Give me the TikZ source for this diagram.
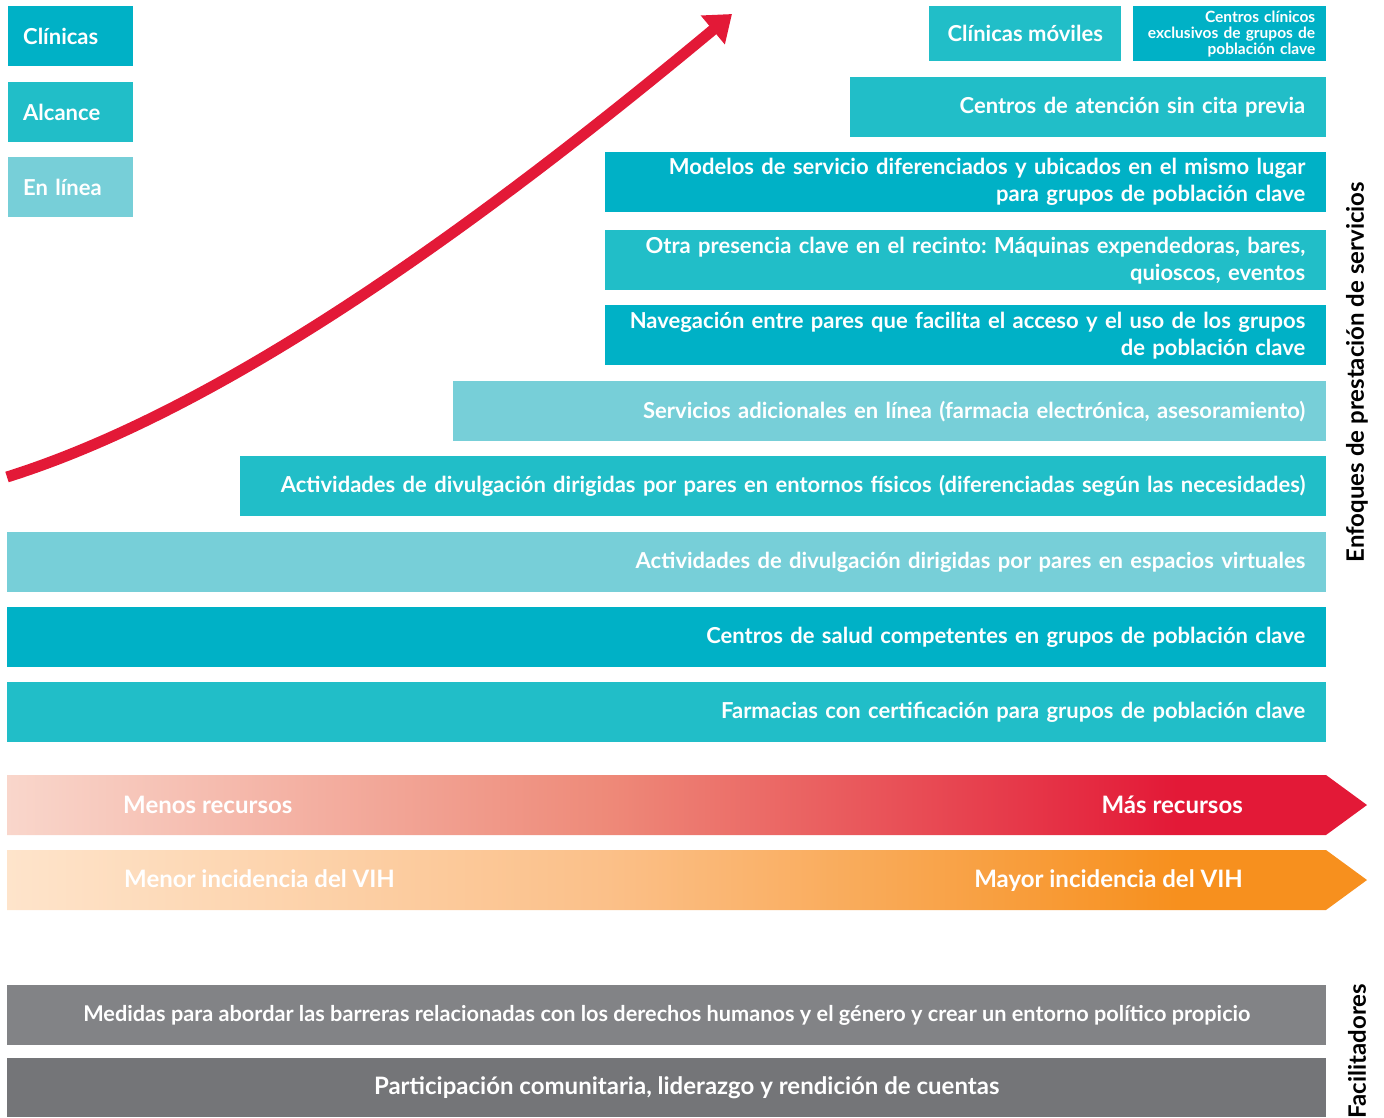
\documentclass[tikz,border=0pt]{standalone}
\usepackage{fontspec}
\setmainfont{Lato}
\usepackage{xcolor}
\usetikzlibrary{arrows.meta,positioning}
\frenchspacing

\definecolor{tealdark}{HTML}{00B1C6}
\definecolor{tealmid}{HTML}{21BEC8}
\definecolor{teallight}{HTML}{77CFD8}
\definecolor{hivred}{HTML}{E31937}
\definecolor{redmid}{HTML}{EE8A79}
\definecolor{redpale}{HTML}{F9D6CB}
\definecolor{hivorange}{HTML}{F7901E}
\definecolor{orangemid}{HTML}{FBC089}
\definecolor{orangepale}{HTML}{FEE4CB}
\definecolor{greyA}{HTML}{828386}
\definecolor{greyB}{HTML}{747578}

\pgfdeclarehorizontalshading{redramp}{100bp}{color(0bp)=(redpale); color(25bp)=(redpale); color(47bp)=(redmid); color(68bp)=(hivred); color(100bp)=(hivred)}
\pgfdeclarehorizontalshading{orangeramp}{100bp}{color(0bp)=(orangepale); color(25bp)=(orangepale); color(47bp)=(orangemid); color(68bp)=(hivorange); color(100bp)=(hivorange)}

\begin{document}
\begin{tikzpicture}[x=1pt,y=-1pt,
  box/.style={rectangle,anchor=north west,minimum height=60pt,inner xsep=21pt,inner ysep=0pt,
    text=white,align=right,font=\bfseries\fontsize{22}{27}\selectfont},
  dark/.style={box,fill=tealdark},
  mid/.style={box,fill=tealmid},
  light/.style={box,fill=teallight},
  tag/.style={align=left,inner xsep=15pt,text width=95pt},
  greybar/.style={rectangle,anchor=north west,minimum width=1319pt,minimum height=60pt,inner sep=0pt,
    text=white,font=\bfseries\fontsize{21.7}{24}\selectfont},
  ramptext/.style={text=white,inner sep=0pt,font=\bfseries\fontsize{24}{26}\selectfont},
  side/.style={rotate=90,inner sep=0pt,font=\bfseries\fontsize{24}{26}\selectfont}]
  \useasboundingbox (0,0) rectangle (1384,1117);

  % legend
  \node[dark,tag] (clin) at (8,6) {Clínicas};
  \node[mid,tag] (alc) at (8,82) {Alcance};
  \node[light,tag] (lin) at (8,157) {En línea};

  % service delivery
  \node[mid,align=center,minimum width=192pt,minimum height=55pt,inner xsep=0pt] (movil) at (929,6) {Clínicas móviles};
  \node[dark,text width=171pt,minimum height=55pt,inner xsep=11pt,
        font=\bfseries\fontsize{15.5}{16}\selectfont] (excl) at (1133,6)
        {Centros clínicos\\exclusivos de grupos de\\población clave};
  \node[mid,text width=434pt] (sincita) at (850,77) {Centros de atención sin cita previa};
  \node[dark,text width=679pt] (modelos) at (605,152)
        {Modelos de servicio diferenciados y ubicados en el mismo lugar\\para grupos de población clave};
  \node[mid,text width=679pt] (otra) at (605,230)
        {Otra presencia clave en el recinto: Máquinas expendedoras, bares,\\quioscos, eventos};
  \node[dark,text width=679pt] (naveg) at (605,305)
        {Navegación entre pares que facilita el acceso y el uso de los grupos\\de población clave};
  \node[light,text width=831pt] (online) at (453,381)
        {Servicios adicionales en línea (farmacia electrónica, asesoramiento)};
  \node[mid,text width=1044pt] (fisico) at (240,456)
        {Actividades de divulgación dirigidas por pares en entornos físicos (diferenciadas según las necesidades)};
  \node[light,text width=1277pt] (virtual) at (7,532)
        {Actividades de divulgación dirigidas por pares en espacios virtuales};
  \node[dark,text width=1277pt] (salud) at (7,607)
        {Centros de salud competentes en grupos de población clave};
  \node[mid,text width=1277pt] (farm) at (7,682)
        {Farmacias con certificación para grupos de población clave};

  % growth arrow
  \draw[hivred,line width=11pt,-{Triangle[length=25pt,width=36pt]}]
    (7,477) .. controls (220,410) and (470,232) .. (732,14);

  % resources and incidence
  \shade[shading=redramp] (7,775) -- (1326,775) -- (1367,805) -- (1326,835) -- (7,835) -- cycle;
  \node[ramptext,anchor=base west] (menos) at (123,813) {Menos recursos};
  \node[ramptext,anchor=base east] (mas) at (1243,813) {Más recursos};
  \shade[shading=orangeramp] (7,850) -- (1326,850) -- (1367,880) -- (1326,910) -- (7,910) -- cycle;
  \node[ramptext,anchor=base west] (menor) at (124,887) {Menor incidencia del VIH};
  \node[ramptext,anchor=base east] (mayor) at (1243,887) {Mayor incidencia del VIH};

  % enablers
  \node[greybar,fill=greyA] (medidas) at (7,985)
        {Medidas para abordar las barreras relacionadas con los derechos humanos y el género y crear un entorno político propicio};
  \node[greybar,fill=greyB,minimum height=59pt,font=\bfseries\fontsize{24}{26}\selectfont] (partic) at (7,1058)
        {\hspace*{40pt}Participación comunitaria, liderazgo y rendición de cuentas};

  % side labels
  \node[side] (enfoques) at (1357,372) {Enfoques de prestación de servicios};
  \node[side] (facil) at (1357,1051) {Facilitadores};
\end{tikzpicture}
\end{document}
